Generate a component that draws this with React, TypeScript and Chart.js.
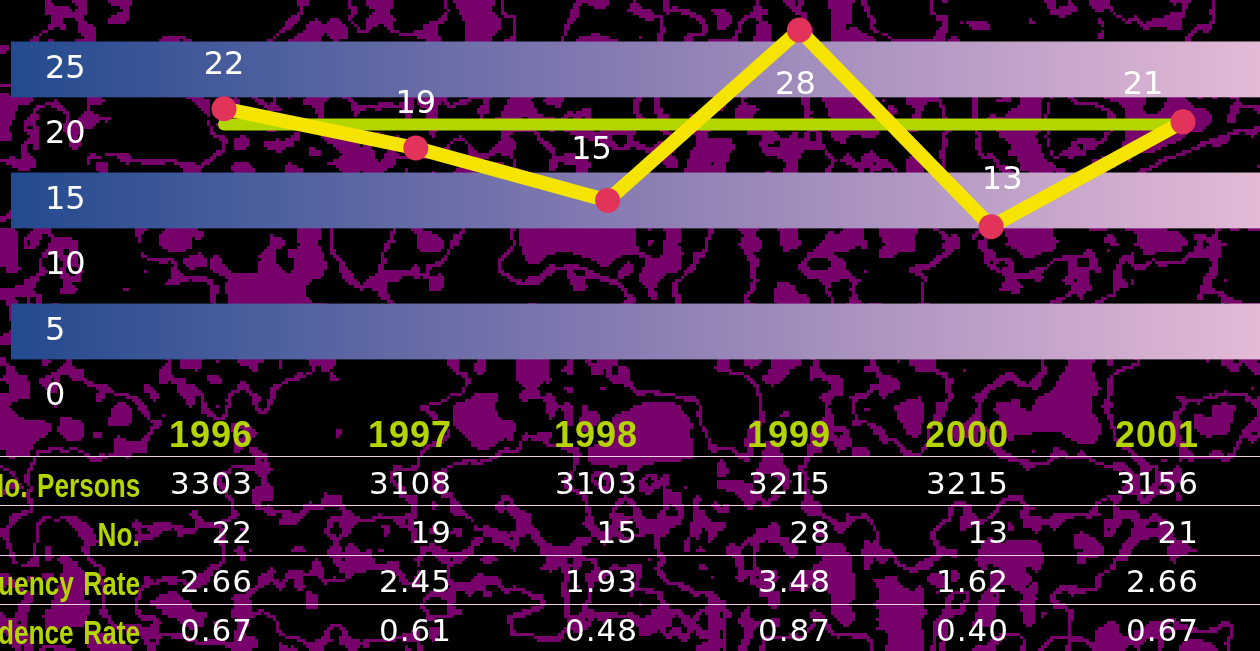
import React, { useEffect, useRef } from "react";
import { Chart, registerables } from "chart.js";

Chart.register(...registerables);

// ---- data ----
const years = ["1996", "1997", "1998", "1999", "2000", "2001"];
const accidents = [22, 19, 15, 28, 13, 21];
const averageLine = [20.8, 20.8, 20.8, 20.8, 20.8, 20.8];
const yTicks = [0, 5, 10, 15, 20, 25];
const bandCenters = [5, 15, 25];
const persons = ["3303", "3108", "3103", "3215", "3215", "3156"];
const frequencyRate = ["2.66", "2.45", "1.93", "3.48", "1.62", "2.66"];
const incidenceRate = ["0.67", "0.61", "0.48", "0.87", "0.40", "0.67"];
const rowLabels = ["No. Persons", "No.", "Frequency Rate", "Incidence Rate"];

// ---- layout / style ----
const W = 1260;
const H = 651;
const colRight = [252, 451, 637, 830, 1008, 1198];
const rowCenter = [481, 530, 579, 628];
const ruleY = [456, 505, 555, 604];
const labelOffsets = [
  [0, -43],
  [0, -43],
  [-16, -50],
  [-4, 56],
  [11, -46],
  [-40, -36],
];
const GREEN = "#b5d400";

function makeTexture(): HTMLCanvasElement {
  const cell = 3;
  const cw = Math.ceil(W / cell);
  const ch = Math.ceil(H / cell);
  const c = document.createElement("canvas");
  c.width = cw;
  c.height = ch;
  const ctx = c.getContext("2d")!;
  const img = ctx.createImageData(cw, ch);
  const hash = (x: number, y: number, s: number) => {
    let n = (Math.imul(x, 374761393) + Math.imul(y, 668265263) + Math.imul(s, 1442695041)) | 0;
    n = Math.imul(n ^ (n >>> 13), 1274126177);
    n = n ^ (n >>> 16);
    return (n >>> 0) / 4294967296;
  };
  const sm = (t: number) => t * t * (3 - 2 * t);
  const vn = (x: number, y: number, size: number, seed: number) => {
    const gx = x / size, gy = y / size;
    const x0 = Math.floor(gx), y0 = Math.floor(gy);
    const fx = sm(gx - x0), fy = sm(gy - y0);
    const a = hash(x0, y0, seed), b = hash(x0 + 1, y0, seed);
    const cc = hash(x0, y0 + 1, seed), d = hash(x0 + 1, y0 + 1, seed);
    const top = a + (b - a) * fx;
    const bot = cc + (d - cc) * fx;
    return top + (bot - top) * fy;
  };
  for (let j = 0; j < ch; j++) {
    for (let i = 0; i < cw; i++) {
      const v = 0.6 * vn(i, j, 20, 1) + 0.3 * vn(i, j, 8, 2) + 0.1 * vn(i, j, 3, 3);
      const purple = Math.abs(v - 0.5) < 0.032 || v > 0.67;
      const k = (j * cw + i) * 4;
      img.data[k] = purple ? 0x77 : 0;
      img.data[k + 1] = 0;
      img.data[k + 2] = purple ? 0x6b : 0;
      img.data[k + 3] = 255;
    }
  }
  ctx.putImageData(img, 0, 0);
  return c;
}

export default function App() {
  const ref = useRef<HTMLCanvasElement | null>(null);

  useEffect(() => {
    document.body.style.margin = "0";
    document.body.style.background = "#000";
    const canvas = ref.current;
    if (!canvas) return;
    const texture = makeTexture();

    const backgroundPlugin = {
      id: "bgBands",
      beforeDraw(chart: any) {
        const ctx = chart.ctx;
        ctx.save();
        ctx.imageSmoothingEnabled = false;
        ctx.drawImage(texture, 0, 0, texture.width * 3, texture.height * 3);
        const y = chart.scales.y;
        const grad = ctx.createLinearGradient(11, 0, chart.width, 0);
        grad.addColorStop(0, "#234a8f");
        grad.addColorStop(0.5, "#8a7db3");
        grad.addColorStop(1, "#e4bad6");
        ctx.fillStyle = grad;
        bandCenters.forEach((c) => {
          const top = y.getPixelForValue(c + 2.13);
          const bot = y.getPixelForValue(c - 2.13);
          ctx.fillRect(11, top, chart.width - 11, bot - top);
        });
        ctx.restore();
      },
    };

    const valueLabelPlugin = {
      id: "valueLabels",
      afterDatasetsDraw(chart: any) {
        const ctx = chart.ctx;
        const meta = chart.getDatasetMeta(0);
        ctx.save();
        ctx.fillStyle = "#ffffff";
        ctx.font = "32px 'DejaVu Sans'";
        ctx.textAlign = "center";
        ctx.textBaseline = "middle";
        meta.data.forEach((pt: any, i: number) => {
          const [dx, dy] = labelOffsets[i];
          ctx.fillText(String(accidents[i]), pt.x + dx, pt.y + dy);
        });
        ctx.restore();
      },
    };

    const chart = new Chart(canvas, {
      type: "line",
      data: {
        labels: years,
        datasets: [
          {
            data: accidents,
            borderColor: "#f5e300",
            borderWidth: 14,
            borderJoinStyle: "round",
            pointRadius: 12.5,
            pointHoverRadius: 12.5,
            pointBackgroundColor: "#e2345a",
            pointBorderWidth: 0,
            clip: false,
            order: 0,
          },
          {
            data: averageLine,
            borderColor: "#b4d600",
            borderWidth: 12,
            borderCapStyle: "round",
            pointRadius: 0,
            pointHoverRadius: 0,
            clip: false,
            order: 1,
          },
        ],
      },
      options: {
        responsive: false,
        animation: false,
        events: [],
        layout: { padding: { left: 45, right: 77, top: 17, bottom: 254 } },
        plugins: {
          legend: { display: false },
          tooltip: { enabled: false },
        },
        scales: {
          x: { display: false, offset: false },
          y: {
            min: 0,
            max: 29,
            afterBuildTicks: (s: any) => {
              s.ticks = yTicks.map((v) => ({ value: v }));
            },
            afterFit: (s: any) => {
              s.width = 179;
            },
            grid: { display: false },
            border: { display: false },
            ticks: {
              crossAlign: "far",
              color: "#ffffff",
              padding: 0,
              font: { family: "'DejaVu Sans'", size: 32, lineHeight: 1 },
            },
          },
        },
      } as any,
      plugins: [backgroundPlugin, valueLabelPlugin],
    });
    return () => chart.destroy();
  }, []);

  const rows = [persons, accidents.map(String), frequencyRate, incidenceRate];

  const abs: React.CSSProperties = { position: "absolute", whiteSpace: "nowrap" };

  return (
    <div style={{ position: "relative", width: W, height: H, overflow: "hidden", background: "#000" }}>
      <canvas ref={ref} width={W} height={H} style={{ display: "block", width: W, height: H }} />
      {ruleY.map((y, i) => (
        <div key={"r" + i} style={{ ...abs, left: 0, top: y, width: W, height: 1, background: "#f0d0e2" }} />
      ))}
      {years.map((yr, i) => (
        <div
          key={"y" + i}
          style={{
            ...abs,
            right: W - colRight[i] - 1,
            top: 432 - 18,
            height: 36,
            lineHeight: "36px",
            font: "bold 36px 'Liberation Sans', Arial, sans-serif",
            letterSpacing: "1px",
            color: GREEN,
            textAlign: "right",
          }}
        >
          {yr}
        </div>
      ))}
      {rowLabels.map((lab, r) => (
        <div
          key={"l" + r}
          style={{
            ...abs,
            right: W - 140,
            top: rowCenter[r] + 2 - 17,
            height: 34,
            lineHeight: "34px",
            font: "bold 34px 'Liberation Sans', Arial, sans-serif",
            wordSpacing: "3px",
            color: GREEN,
            textAlign: "right",
            transform: "scaleX(0.77)",
            transformOrigin: "right center",
          }}
        >
          {lab}
        </div>
      ))}
      {rows.map((vals, r) =>
        vals.map((v, i) => (
          <div
            key={"v" + r + "-" + i}
            style={{
              ...abs,
              right: W - colRight[i] - 1,
              top: rowCenter[r] - 16,
              height: 32,
              lineHeight: "32px",
              font: "31px 'DejaVu Sans', sans-serif",
              letterSpacing: "1px",
              color: "#ffffff",
              textAlign: "right",
            }}
          >
            {v}
          </div>
        ))
      )}
    </div>
  );
}
